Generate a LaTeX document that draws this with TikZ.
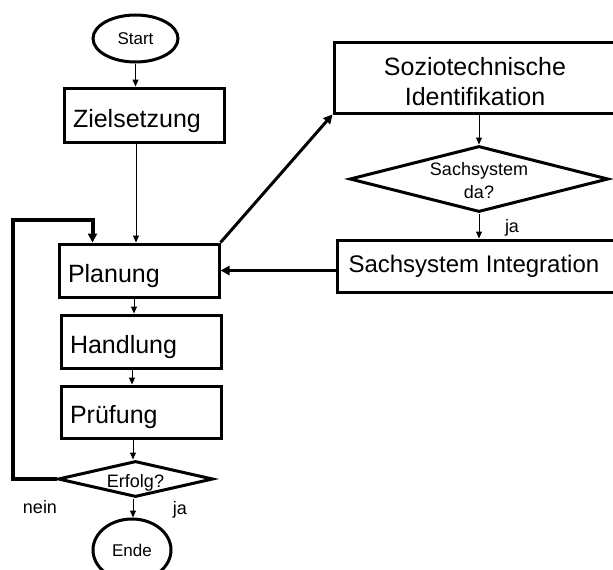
\documentclass[tikz,border=0pt]{standalone}
\usepackage{fontspec}
\setmainfont{Liberation Sans}
\usetikzlibrary{shapes.geometric,arrows.meta}

\begin{document}
\begin{tikzpicture}[x=1pt,y=-1pt,
  bigfont/.style={font=\fontsize{25}{30}\selectfont},
  smallfont/.style={font=\fontsize{18}{22}\selectfont},
  stepbox/.style={draw,line width=3pt,rectangle,bigfont,minimum width=160pt,
    minimum height=53pt,text width=142pt,inner xsep=9pt,align=left,
    text height=24pt,text depth=0pt},
  widebox/.style={draw,line width=3pt,rectangle,bigfont,minimum width=282pt,
    align=center,inner sep=0pt},
  terminal/.style={draw,line width=3pt,ellipse,inner sep=0pt,
    font=\fontsize{17}{20}\selectfont},
  decision/.style={draw,line width=3pt,diamond,inner sep=0pt,aspect=4,
    smallfont,align=center},
  thin/.style={line width=1pt,-{Triangle[length=7pt,width=6pt]}},
  thick/.style={line width=3pt,-{Triangle[length=9pt,width=9pt]}},
  lbl/.style={smallfont,inner sep=0pt}
]
\clip (0,0) rectangle (613,570);

% main column
\node[terminal,minimum width=85pt,minimum height=47pt] (start) at (135.5,38.5) {Start};
\node[stepbox,minimum height=54pt] (ziel) at (144,115) {Zielsetzung};
\node[stepbox] (plan) at (139,270.5) {Planung};
\node[stepbox,text height=23pt] (hand) at (141,341.5) {Handlung};
\node[stepbox,minimum height=52pt,text height=22pt] (pruef) at (141,412) {Prüfung};
\node[decision,minimum width=155pt,minimum height=36pt,text height=16pt,text depth=0pt]
  (erf) at (135.5,479) {Erfolg?};
\node[terminal,minimum width=78pt,minimum height=62pt] (ende) at (132,550) {Ende};

% right column
\node[widebox,minimum height=71pt] (sozio) at (475,77.5)
  {\rule{0pt}{27pt}Soziotechnische\\Identifikation};
\node[decision,minimum width=252pt,minimum height=66pt] (sach) at (479,179)
  {\rule{0pt}{17pt}Sachsystem\\[1pt]da?};
\node[widebox,minimum height=52pt,anchor=west,
  font=\fontsize{24}{29}\selectfont] (integ) at (336,266)
  {\hspace*{11pt}Sachsystem Integration\hspace*{30pt}};

% loop coordinate
\coordinate (loopL) at (13,220);

% connectors of the main column
\draw[thin] (start.south) -- (start.south |- ziel.north);
\draw[thin] ([xshift=-8pt]ziel.south) -- ([xshift=-8pt]ziel.south |- plan.north);
\draw[thin] ([xshift=-5pt]plan.south) -- ([xshift=-5pt]plan.south |- hand.north);
\draw[thin] ([xshift=-9pt]hand.south) -- ([xshift=-9pt]hand.south |- pruef.north);
\draw[thin] ([xshift=-8pt]pruef.south) -- ([xshift=-8pt]pruef.south |- erf.north);
\draw[thin] ([xshift=-2.5pt]erf.south) -- ([xshift=-2.5pt]erf.south |- ende.north);

% loop back from the decision
\draw[line width=4pt,-{Triangle[length=9pt,width=9pt]}]
  (erf.west) -| (loopL) -| ([xshift=35pt]plan.north west);

% connectors of the right column
\draw[thick] (plan.north east) -- (sozio.south west);
\draw[thin] (sach.north |- sozio.south) -- (sach.north);
\draw[thin] (sach.south) -- (sach.south |- integ.north);
\draw[thick] (integ.west |- plan.east) -- (plan.east);

% labels
\node[lbl] (nein) at (40,507) {nein};
\node[lbl] (ja1) at (180,510) {ja};
\node[lbl] (ja2) at (512,228) {ja};
\end{tikzpicture}
\end{document}
